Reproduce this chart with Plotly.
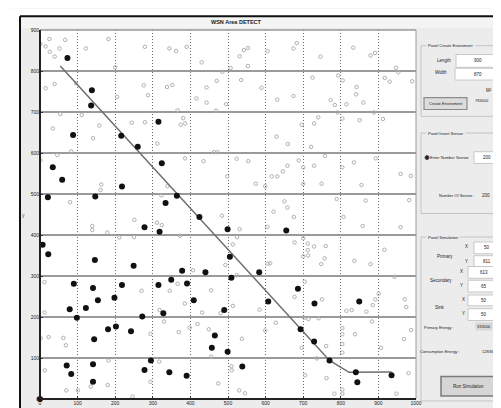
import plotly.graph_objects as go

# ---------------- data ----------------
x_ticks = [0, 100, 200, 300, 400, 500, 600, 700, 800, 900, 1000]
y_ticks = [0, 100, 200, 300, 400, 500, 600, 700, 800, 900]

# black (selected) sensor nodes
black_x = [73, 138, 136, 88, 216, 260, 315, 324, 34, 59, 218, 21, 147, 364, 334, 424, 278, 318, 499, 655,
           7, 22, 146, 249, 505, 509, 440, 378, 349, 391, 315, 218, 90, 141, 154, 198, 409, 79, 122, 98,
           272, 328, 490, 181, 202, 242, 465, 457, 499, 144, 295, 71, 141, 83, 278, 344, 390, 538, 141, 583,
           686, 607, 730, 849, 693, 729, 770, 840, 844, 935, 0]
black_y = [832, 753, 716, 644, 642, 615, 676, 575, 565, 535, 518, 492, 494, 496, 478, 444, 419, 408, 414, 411,
           376, 353, 339, 325, 347, 296, 309, 313, 291, 282, 278, 278, 281, 271, 241, 247, 241, 219, 222, 198,
           201, 209, 217, 170, 177, 165, 155, 125, 115, 146, 94, 82, 85, 61, 71, 65, 57, 79, 42, 309,
           269, 238, 233, 238, 170, 140, 94, 65, 41, 58, 0]

# gray (other) sensor nodes
gray_x = [1, 15, 25, 26, 39, 52, 67, 122, 182, 279, 344, 362, 390, 430, 507, 531, 542, 553, 553, 485,
          470, 443, 443, 416, 495, 468, 535, 15, 39, 96, 200, 205, 276, 287, 338, 352, 366, 381, 374, 386,
          54, 111, 244, 279, 34, 158, 141, 83, 46, 1, 312, 386, 435, 463, 472, 523, 554, 574, 498, 163,
          161, 80, 339, 323,
          605, 674, 683, 746, 833, 879, 891, 947, 953, 589, 631, 674, 725, 793, 805, 842, 841, 860, 773, 784,
          815, 791, 888, 917, 930, 990, 696, 729, 740, 804, 850, 912, 629, 659, 721, 758, 688, 729, 700, 658,
          646, 631, 616, 749, 700, 804, 835, 893, 855, 959, 986, 599, 650, 789, 866, 982,
          251, 311, 324, 139, 139, 179, 211, 250, 372, 484, 531, 524, 513, 493, 523, 407, 366, 345, 270, 385,
          455, 513, 431, 480, 318, 330, 12, 12, 2, 23, 62, 69, 294, 369, 398, 419, 449, 455, 182, 317,
          13, 510, 509, 537, 294, 135, 180, 101, 70, 246, 474, 530, 545,
          621, 658, 675, 605, 677, 700, 712, 729, 760, 712, 700, 713, 757, 748, 605, 612, 807, 858, 959, 916,
          836, 879, 943, 704, 677, 750, 584, 627, 714, 741, 703, 599, 815, 829, 868, 885, 892, 901, 970, 974,
          883, 804, 804, 804, 838, 804, 987, 968, 907, 696, 761, 736, 705, 762, 804, 804, 783, 948, 980]
gray_y = [866, 860, 878, 847, 835, 855, 876, 855, 878, 859, 855, 849, 859, 821, 807, 836, 851, 856, 812, 798,
          776, 760, 723, 733, 719, 703, 778, 758, 768, 770, 809, 737, 765, 741, 761, 766, 704, 685, 669, 672,
          695, 693, 674, 675, 660, 667, 636, 604, 595, 582, 623, 587, 580, 602, 602, 586, 580, 525, 543, 523,
          510, 480, 519, 497,
          848, 855, 868, 835, 857, 838, 844, 808, 797, 759, 730, 739, 784, 789, 777, 761, 743, 723, 729, 717,
          719, 699, 699, 783, 774, 775, 669, 672, 687, 684, 680, 683, 640, 622, 615, 593, 582, 569, 565, 569,
          555, 543, 543, 525, 525, 565, 577, 587, 522, 549, 544, 519, 482, 488, 484, 485,
          437, 430, 424, 422, 412, 406, 394, 395, 398, 447, 414, 395, 377, 327, 302, 314, 281, 264, 264, 233,
          265, 227, 211, 209, 217, 189, 285, 211, 148, 151, 149, 131, 159, 163, 174, 183, 170, 103, 94, 91,
          70, 70, 80, 147, 42, 30, 34, 21, 21, 6, 38, 21, 14,
          457, 467, 444, 420, 382, 392, 379, 372, 373, 363, 348, 350, 343, 329, 330, 331, 444, 422, 419, 364,
          337, 329, 298, 286, 249, 243, 218, 186, 195, 197, 198, 167, 215, 217, 213, 229, 243, 257, 243, 224,
          189, 173, 158, 134, 158, 113, 168, 146, 125, 125, 129, 99, 58, 51, 23, 13, 13, 13, 63]

# routing path
path_x = [54, 770, 822, 935]
path_y = [812, 94, 65, 66]

# GUI panel values
env_length = "900"
env_width = "870"
env_area = "783000"
sensor_count = "200"
primary_xy = ("50", "811")
secondary_xy = ("613", "65")
sink_xy = ("50", "50")
primary_energy = "333000"
consumption_energy = "12836"

# ---------------- figure ----------------
W, H = 501, 408
L, R, T, B = 32, 408, 22, 398


def px(x):
    return (x - L) / (R - L)


def py(y):
    return (B - y) / (B - T)


fig = go.Figure()

fig.add_trace(go.Scatter(x=gray_x, y=gray_y, mode="markers",
                         marker=dict(symbol="circle-open", size=3.5, color="#b0b0b0",
                                     line=dict(width=1, color="#b0b0b0")),
                         hoverinfo="skip", showlegend=False))
fig.add_trace(go.Scatter(x=path_x, y=path_y, mode="lines",
                         line=dict(color="#6e6e6e", width=1.5),
                         hoverinfo="skip", showlegend=False))
fig.add_trace(go.Scatter(x=black_x, y=black_y, mode="markers",
                         marker=dict(symbol="circle", size=6, color="#111111"),
                         hoverinfo="skip", showlegend=False, cliponaxis=False))

shapes = []
ann = []


def rect(x0, y0, x1, y1, fill="rgba(0,0,0,0)", line="#b0b0b0", lw=1, layer="below"):
    shapes.append(dict(type="rect", xref="paper", yref="paper",
                       x0=px(x0), x1=px(x1), y0=py(y0), y1=py(y1),
                       fillcolor=fill, line=dict(color=line, width=lw), layer=layer))


def circle(x0, y0, x1, y1, fill="#222", line="#444", lw=1):
    shapes.append(dict(type="circle", xref="paper", yref="paper",
                       x0=px(x0), x1=px(x1), y0=py(y0), y1=py(y1),
                       fillcolor=fill, line=dict(color=line, width=lw), layer="above"))


def line(x0, y0, x1, y1, color="#222", lw=1, layer="above"):
    shapes.append(dict(type="line", xref="paper", yref="paper",
                       x0=px(x0), x1=px(x1), y0=py(y0), y1=py(y1),
                       line=dict(color=color, width=lw), layer=layer))


def text(x, y, s, size=4.5, color="#222", bg=None, bold=False, anchor="center"):
    if bold:
        s = "<b>" + s + "</b>"
    d = dict(xref="paper", yref="paper", x=px(x), y=py(y), text=s, showarrow=False,
             xanchor=anchor, yanchor="middle",
             font=dict(size=size, color=color, family="Arial, Liberation Sans, sans-serif"))
    if bg:
        d["bgcolor"] = bg
    ann.append(d)


# outer white margins and window border
rect(0, 0, 501, 8, fill="white", line="white", lw=0)
rect(0, 0, 12, 408, fill="white", line="white", lw=0)
line(12, 8, 501, 8, color="#111", lw=2)
line(12, 8, 12, 408, color="#111", lw=2)
rect(13, 9, 501, 20, fill="#f4f4f4", line="#f4f4f4", lw=0)
text(228, 14, "WSN Area DETECT", size=5.5, color="#222", bold=True)

# plot frame
line(L, T, R, T, color="#9a9a9a", lw=1.5)
line(R, T, R, B, color="#9a9a9a", lw=1)
line(L, T, L, B, color="#222", lw=2)
line(L, B, R, B, color="#222", lw=2)
text(15, 210, "y", size=5, color="#444")

# ---- Panel Create Enviroment ----
rect(413, 38, 497, 110, line="#c4c4c4")
text(418, 38, "Panel Create Enviroment", size=4, bg="#ececec", anchor="left")
text(436, 53, "Length", size=4.5)
rect(448, 47, 492, 60, fill="white", line="#c8c8c8")
text(470, 53.5, env_length, size=4.5)
text(433, 65, "Width", size=4.5)
rect(447, 61, 492, 73, fill="white", line="#c8c8c8")
text(470, 67, env_width, size=4.5)
text(481, 84, "M²", size=4.5)
text(474, 94, env_area, size=4)
rect(416, 91, 459, 103, fill="#dcdcdc", line="#8a8a8a", lw=1.2)
text(437.5, 97, "Create Enviroment", size=4)

# ---- Panel Insert Sensor ----
rect(413, 127, 497, 209, line="#c4c4c4")
text(418, 127, "Panel Insert Sensor", size=4, bg="#ececec", anchor="left")
circle(417, 150, 421, 154)
text(441, 152, "Enter Number Sensor", size=4)
rect(466, 146, 492, 158, fill="white", line="#c8c8c8")
text(479, 152, sensor_count, size=4.5)
text(449, 191, "Number Of Sensor :", size=4)
text(478, 191, sensor_count, size=4.5)

# ---- Panel Simulation ----
rect(413, 233, 497, 400, line="#c4c4c4")
text(418, 233, "Panel Simulation", size=4, bg="#ececec", anchor="left")
text(437, 253, "Primary", size=4.5)
text(458, 243, "X", size=4.5)
rect(466, 238, 492, 250, fill="white", line="#c8c8c8")
text(479, 244, primary_xy[0], size=4.5)
text(458, 258, "Y", size=4.5)
rect(466, 252, 492, 264, fill="white", line="#c8c8c8")
text(479, 258, primary_xy[1], size=4.5)

text(433, 277, "Secondary", size=4.5)
text(453, 268, "X", size=4.5)
rect(460, 263, 492, 275, fill="white", line="#c8c8c8")
text(476, 269, secondary_xy[0], size=4.5)
text(453, 282, "Y", size=4.5)
rect(460, 277, 492, 289, fill="white", line="#c8c8c8")
text(476, 283, secondary_xy[1], size=4.5)

text(432, 305, "Sink", size=4.5)
text(455, 297, "X", size=4.5)
rect(460, 292, 492, 303, fill="white", line="#c8c8c8")
text(476, 297.5, sink_xy[0], size=4.5)
text(455, 311, "Y", size=4.5)
rect(460, 306, 492, 318, fill="white", line="#c8c8c8")
text(476, 312, sink_xy[1], size=4.5)

text(431, 325, "Primary Energy :", size=4)
text(476, 324, primary_energy, size=4, bg="#d8d8d8")
text(432, 350, "Consumption Energy :", size=4)
text(480, 350, consumption_energy, size=4)
rect(433, 375, 488, 395, fill="#d6d6d6", line="#7a7a7a", lw=1.5)
text(460.5, 385, "Run Simulation", size=4.5)

fig.update_layout(
    width=W, height=H,
    margin=dict(l=L, r=W - R, t=T, b=H - B, pad=0),
    paper_bgcolor="#ececec",
    plot_bgcolor="white",
    showlegend=False,
    shapes=shapes,
    annotations=ann,
    xaxis=dict(range=[0, 1000], tickvals=x_ticks, ticktext=[str(v) for v in x_ticks],
               showgrid=True, gridcolor="#6a6a6a", griddash="1px,2px", gridwidth=1,
               zeroline=False, showline=False, ticks="inside", ticklen=3, tickcolor="#333",
               tickfont=dict(size=5, color="#222", family="Arial, Liberation Sans, sans-serif"),
               fixedrange=True),
    yaxis=dict(range=[0, 900], tickvals=y_ticks, ticktext=[str(v) for v in y_ticks],
               showgrid=True, gridcolor="#9a9a9a", gridwidth=1.5,
               zeroline=False, showline=False, ticks="inside", ticklen=3, tickcolor="#333",
               tickfont=dict(size=5, color="#222", family="Arial, Liberation Sans, sans-serif"),
               fixedrange=True),
)

fig.write_html("out.html")
